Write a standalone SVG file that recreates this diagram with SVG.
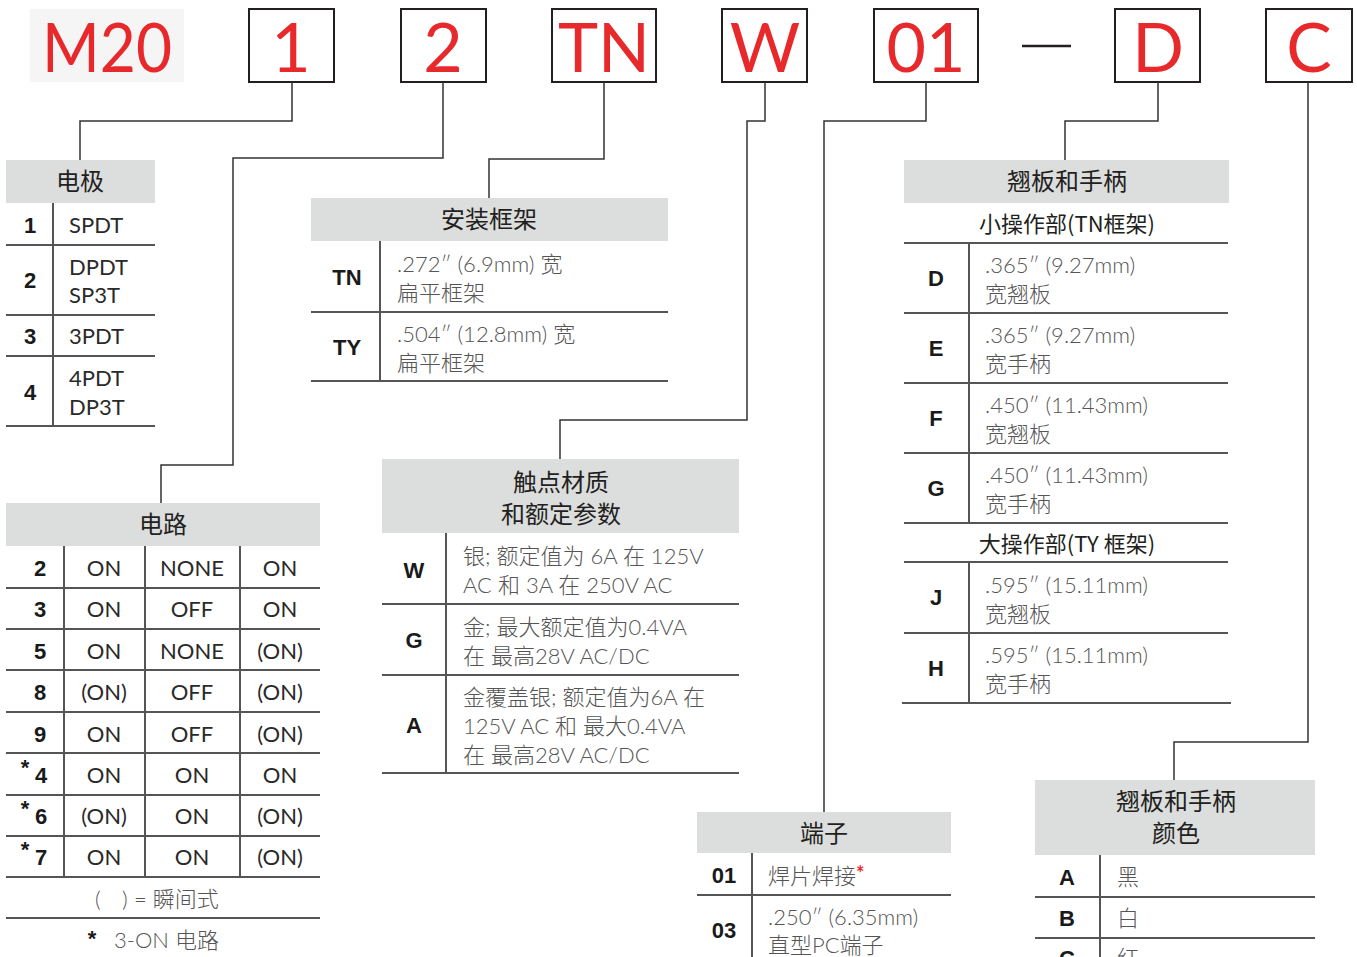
<svg xmlns="http://www.w3.org/2000/svg" width="1357" height="957" viewBox="0 0 1357 957">
<style>
.bg{fill:#ffffff}
.hdr{fill:#dcdddd}
.box{fill:#ffffff;stroke:#231f20;stroke-width:2}
.red{font-family:"Lato","Liberation Sans",sans-serif;font-weight:400;font-size:68px;fill:#e8292c;text-anchor:middle}
.ht{font-family:"Noto Sans CJK SC","Noto Sans",sans-serif;font-size:24px;fill:#231f20;text-anchor:middle}
.k{font-family:"Liberation Sans","Noto Sans CJK SC",sans-serif;font-weight:bold;font-size:22px;fill:#1a1a1a;text-anchor:middle}
.vd{font-family:"Lato","Noto Sans CJK SC",sans-serif;font-size:22px;fill:#2a2a2a}
.vc{font-family:"Lato","Noto Sans CJK SC",sans-serif;font-size:22px;fill:#2a2a2a;text-anchor:middle}
.v{font-family:"Lato","Noto Sans CJK SC",sans-serif;font-weight:300;font-size:22px;fill:#555555}
.sub{font-family:"Noto Sans CJK SC","Noto Sans",sans-serif;font-size:22px;fill:#231f20;text-anchor:middle}
.ln{stroke:#555555;stroke-width:2;fill:none}
.con{stroke:#333333;stroke-width:1.5;fill:none}
</style>
<rect class="bg" x="0" y="0" width="1357" height="957"/>

<g id="code">
  <rect x="30" y="9" width="154" height="73" fill="#f5f5f5"/>
  <text class="red" x="107" y="72" textLength="130" lengthAdjust="spacingAndGlyphs">M20</text>
  <rect class="box" x="249" y="9" width="85" height="73"/>
  <text class="red" x="291" y="72">1</text>
  <rect class="box" x="401" y="9" width="85" height="73"/>
  <text class="red" x="443" y="72">2</text>
  <rect class="box" x="552" y="9" width="104" height="73"/>
  <text class="red" x="604" y="72">TN</text>
  <rect class="box" x="722" y="9" width="85" height="73"/>
  <text class="red" x="765" y="72">W</text>
  <rect class="box" x="874" y="9" width="104" height="73"/>
  <text class="red" x="926" y="72">01</text>
  <line x1="1022" y1="46" x2="1071" y2="46" stroke="#231f20" stroke-width="2.5"/>
  <rect class="box" x="1115" y="9" width="85" height="73"/>
  <text class="red" x="1158" y="72">D</text>
  <rect class="box" x="1266" y="9" width="86" height="73"/>
  <text class="red" x="1309" y="72">C</text>
</g>

<g id="connectors">
  <polyline class="con" points="292,82 292,121 80,121 80,160"/>
  <polyline class="con" points="443,82 443,158 233,158 233,465 161,465 161,503"/>
  <polyline class="con" points="604,82 604,159 489,159 489,198"/>
  <polyline class="con" points="765,82 765,121 747,121 747,420 560,420 560,459"/>
  <polyline class="con" points="926,82 926,121 824,121 824,812"/>
  <polyline class="con" points="1158,82 1158,121 1065,121 1065,160"/>
  <polyline class="con" points="1308,82 1308,742 1174,742 1174,780"/>
</g>

<g id="poles">
  <rect class="hdr" x="6" y="160" width="149" height="43"/>
  <text class="ht" x="80" y="190">电极</text>
  <line class="ln" x1="53" y1="203" x2="53" y2="426"/>
  <line class="ln" x1="6" y1="245" x2="155" y2="245"/>
  <line class="ln" x1="6" y1="315" x2="155" y2="315"/>
  <line class="ln" x1="6" y1="356" x2="155" y2="356"/>
  <line class="ln" x1="6" y1="426" x2="155" y2="426"/>
  <text class="k" x="30" y="233">1</text><text class="vd" x="69" y="233">SPDT</text>
  <text class="k" x="30" y="288">2</text><text class="vd" x="69" y="275">DPDT</text><text class="vd" x="69" y="303">SP3T</text>
  <text class="k" x="30" y="344">3</text><text class="vd" x="69" y="344">3PDT</text>
  <text class="k" x="30" y="400">4</text><text class="vd" x="69" y="386">4PDT</text><text class="vd" x="69" y="415">DP3T</text>
</g>

<g id="frame">
  <rect class="hdr" x="311" y="198" width="357" height="43"/>
  <text class="ht" x="489" y="228">安装框架</text>
  <line class="ln" x1="380" y1="241" x2="380" y2="381"/>
  <line class="ln" x1="311" y1="312" x2="668" y2="312"/>
  <line class="ln" x1="311" y1="381" x2="668" y2="381"/>
  <text class="k" x="347" y="285">TN</text>
  <text class="v" x="397" y="272">.272″ (6.9mm) 宽</text>
  <text class="v" x="397" y="301">扁平框架</text>
  <text class="k" x="347" y="355">TY</text>
  <text class="v" x="397" y="342">.504″ (12.8mm) 宽</text>
  <text class="v" x="397" y="371">扁平框架</text>
</g>

<g id="circuit">
  <rect class="hdr" x="6" y="503" width="314" height="43"/>
  <text class="ht" x="163" y="533">电路</text>
  <line class="ln" x1="64" y1="546" x2="64" y2="877"/>
  <line class="ln" x1="145" y1="546" x2="145" y2="877"/>
  <line class="ln" x1="240" y1="546" x2="240" y2="877"/>
  <line class="ln" x1="6" y1="588" x2="320" y2="588"/>
  <line class="ln" x1="6" y1="629" x2="320" y2="629"/>
  <line class="ln" x1="6" y1="670" x2="320" y2="670"/>
  <line class="ln" x1="6" y1="712" x2="320" y2="712"/>
  <line class="ln" x1="6" y1="753" x2="320" y2="753"/>
  <line class="ln" x1="6" y1="795" x2="320" y2="795"/>
  <line class="ln" x1="6" y1="836" x2="320" y2="836"/>
  <line class="ln" x1="6" y1="877" x2="320" y2="877"/>
  <line class="ln" x1="6" y1="918" x2="320" y2="918"/>
  <text class="k" x="40" y="576">2</text><text class="vc" x="104" y="576">ON</text><text class="vc" x="192" y="576">NONE</text><text class="vc" x="280" y="576">ON</text>
  <text class="k" x="40" y="617">3</text><text class="vc" x="104" y="617">ON</text><text class="vc" x="192" y="617">OFF</text><text class="vc" x="280" y="617">ON</text>
  <text class="k" x="40" y="659">5</text><text class="vc" x="104" y="659">ON</text><text class="vc" x="192" y="659">NONE</text><text class="vc" x="280" y="659">(ON)</text>
  <text class="k" x="40" y="700">8</text><text class="vc" x="104" y="700">(ON)</text><text class="vc" x="192" y="700">OFF</text><text class="vc" x="280" y="700">(ON)</text>
  <text class="k" x="40" y="742">9</text><text class="vc" x="104" y="742">ON</text><text class="vc" x="192" y="742">OFF</text><text class="vc" x="280" y="742">(ON)</text>
  <text class="k" x="25" y="775" font-size="16">*</text><text class="k" x="41" y="783">4</text><text class="vc" x="104" y="783">ON</text><text class="vc" x="192" y="783">ON</text><text class="vc" x="280" y="783">ON</text>
  <text class="k" x="25" y="816" font-size="16">*</text><text class="k" x="41" y="824">6</text><text class="vc" x="104" y="824">(ON)</text><text class="vc" x="192" y="824">ON</text><text class="vc" x="280" y="824">(ON)</text>
  <text class="k" x="25" y="857" font-size="16">*</text><text class="k" x="41" y="865">7</text><text class="vc" x="104" y="865">ON</text><text class="vc" x="192" y="865">ON</text><text class="vc" x="280" y="865">(ON)</text>
  <text class="v" x="95" y="907">(<tspan x="122">)</tspan><tspan x="134">= 瞬间式</tspan></text>
  <text class="k" x="92" y="946" font-size="18">*</text>
  <text class="v" x="114" y="948">3-ON 电路</text>
</g>

<g id="contact">
  <rect class="hdr" x="382" y="459" width="357" height="74"/>
  <text class="ht" x="561" y="491">触点材质</text>
  <text class="ht" x="561" y="523">和额定参数</text>
  <line class="ln" x1="446" y1="533" x2="446" y2="773"/>
  <line class="ln" x1="382" y1="604" x2="739" y2="604"/>
  <line class="ln" x1="382" y1="675" x2="739" y2="675"/>
  <line class="ln" x1="382" y1="773" x2="739" y2="773"/>
  <text class="k" x="414" y="578">W</text>
  <text class="v" x="463" y="564">银; 额定值为 6A 在 125V</text>
  <text class="v" x="463" y="593">AC 和 3A 在 250V AC</text>
  <text class="k" x="414" y="648">G</text>
  <text class="v" x="463" y="635">金; 最大额定值为0.4VA</text>
  <text class="v" x="463" y="664">在 最高28V AC/DC</text>
  <text class="k" x="414" y="733">A</text>
  <text class="v" x="463" y="705">金覆盖银; 额定值为6A 在</text>
  <text class="v" x="463" y="734">125V AC 和 最大0.4VA</text>
  <text class="v" x="463" y="763">在 最高28V AC/DC</text>
</g>

<g id="actuator">
  <rect class="hdr" x="904" y="160" width="325" height="43"/>
  <text class="ht" x="1067" y="190">翘板和手柄</text>
  <text class="sub" x="1067" y="232">小操作部(TN框架)</text>
  <line class="ln" x1="904" y1="243" x2="1228" y2="243"/>
  <line class="ln" x1="969" y1="243" x2="969" y2="523"/>
  <line class="ln" x1="904" y1="313" x2="1228" y2="313"/>
  <line class="ln" x1="904" y1="383" x2="1228" y2="383"/>
  <line class="ln" x1="904" y1="453" x2="1228" y2="453"/>
  <line class="ln" x1="904" y1="523" x2="1228" y2="523"/>
  <text class="sub" x="1067" y="552">大操作部(TY 框架)</text>
  <line class="ln" x1="904" y1="562" x2="1228" y2="562"/>
  <line class="ln" x1="969" y1="562" x2="969" y2="703"/>
  <line class="ln" x1="904" y1="633" x2="1228" y2="633"/>
  <line class="ln" x1="902" y1="703" x2="1231" y2="703"/>
  <text class="k" x="936" y="286">D</text>
  <text class="v" x="985" y="273">.365″ (9.27mm)</text><text class="v" x="985" y="302">宽翘板</text>
  <text class="k" x="936" y="356">E</text>
  <text class="v" x="985" y="343">.365″ (9.27mm)</text><text class="v" x="985" y="372">宽手柄</text>
  <text class="k" x="936" y="426">F</text>
  <text class="v" x="985" y="413">.450″ (11.43mm)</text><text class="v" x="985" y="442">宽翘板</text>
  <text class="k" x="936" y="496">G</text>
  <text class="v" x="985" y="483">.450″ (11.43mm)</text><text class="v" x="985" y="512">宽手柄</text>
  <text class="k" x="936" y="605">J</text>
  <text class="v" x="985" y="593">.595″ (15.11mm)</text><text class="v" x="985" y="622">宽翘板</text>
  <text class="k" x="936" y="676">H</text>
  <text class="v" x="985" y="663">.595″ (15.11mm)</text><text class="v" x="985" y="692">宽手柄</text>
</g>

<g id="terminal">
  <rect class="hdr" x="697" y="812" width="254" height="41"/>
  <text class="ht" x="824" y="842">端子</text>
  <line class="ln" x1="752" y1="853" x2="752" y2="957"/>
  <line class="ln" x1="697" y1="895" x2="951" y2="895"/>
  <text class="k" x="724" y="883">01</text>
  <text class="v" x="768" y="884">焊片焊接<tspan fill="#e8292c" font-weight="bold" font-size="20" dy="-3">*</tspan></text>
  <text class="k" x="724" y="938">03</text>
  <text class="v" x="768" y="925">.250″ (6.35mm)</text>
  <text class="v" x="768" y="953">直型PC端子</text>
</g>

<g id="color">
  <rect class="hdr" x="1035" y="780" width="280" height="75"/>
  <text class="ht" x="1176" y="810">翘板和手柄</text>
  <text class="ht" x="1176" y="842">颜色</text>
  <line class="ln" x1="1100" y1="855" x2="1100" y2="957"/>
  <line class="ln" x1="1035" y1="897" x2="1315" y2="897"/>
  <line class="ln" x1="1035" y1="938" x2="1315" y2="938"/>
  <text class="k" x="1067" y="885">A</text><text class="v" x="1117" y="885">黑</text>
  <text class="k" x="1067" y="926">B</text><text class="v" x="1117" y="926">白</text>
  <text class="k" x="1067" y="966">C</text><text class="v" x="1117" y="966">红</text>
</g>
</svg>
